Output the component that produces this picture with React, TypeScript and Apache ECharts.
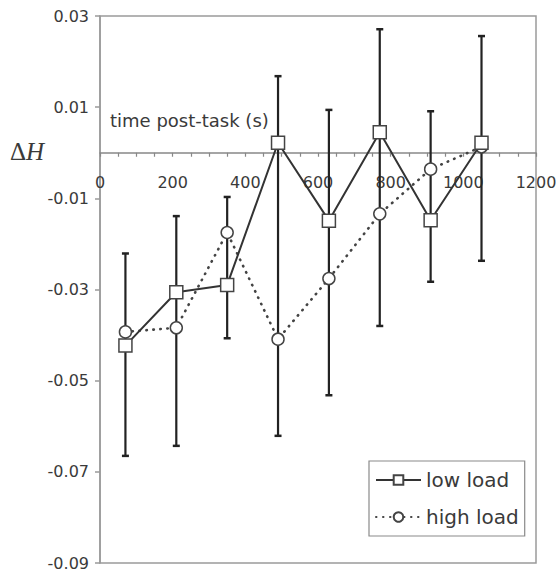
import React, { useEffect, useRef } from "react";
import * as echarts from "echarts";

const timePoints = [70, 210, 350, 490, 630, 770, 910, 1050];
const lowLoad = [-0.0423, -0.0306, -0.029, 0.0022, -0.0149, 0.0045, -0.0148, 0.0022];
const highLoad = [-0.0393, -0.0384, -0.0175, -0.0409, -0.0276, -0.0134, -0.0036, 0.0013];
const errBarTop = [-0.0221, -0.0139, -0.0097, 0.0168, 0.0094, 0.0271, 0.0091, 0.0256];
const errBarBottom = [-0.0665, -0.0643, -0.0407, -0.0621, -0.0532, -0.038, -0.0283, -0.0237];
const seriesNames = ["low load", "high load"];
const xAxisTitle = "time post-task (s)";

const FONT = "DejaVu Sans";
const TEXT = "#3a3a3a";
const AXIS = "#9a9a9a";

const GRID_TOP = 16;
const GRID_BOTTOM = 11;
const CHART_H = 574;
const Y_MIN = -0.09;
const Y_MAX = 0.03;

export default function App() {
  const ref = useRef<HTMLDivElement>(null);
  useEffect(() => {
    if (!ref.current) return;
    const chart = echarts.init(ref.current, null, { renderer: "svg" });
    const errData = timePoints.map((x, i) => [x, errBarTop[i], errBarBottom[i]]);
    const plotH = CHART_H - GRID_TOP - GRID_BOTTOM;
    const zeroFromBottom = plotH * ((0 - Y_MIN) / (Y_MAX - Y_MIN));
    chart.setOption({
      animation: false,
      backgroundColor: "#ffffff",
      grid: {
        left: 100,
        right: 24,
        top: GRID_TOP,
        bottom: GRID_BOTTOM,
        show: true,
        borderColor: AXIS,
        borderWidth: 1.5,
        containLabel: false,
        outerBoundsMode: "none",
      },
      xAxis: {
        type: "value",
        position: "bottom",
        offset: -zeroFromBottom,
        min: 0,
        max: 1200,
        interval: 200,
        axisLine: { onZero: false, lineStyle: { color: "#888", width: 1.5 } },
        axisTick: { show: true, inside: false, length: 4, lineStyle: { color: "#888", width: 1.2 } },
        minorTick: { show: true, splitNumber: 4, length: 4, lineStyle: { color: "#888", width: 1.2 } },
        splitLine: { show: false },
        minorSplitLine: { show: false },
        axisLabel: {
          margin: 22,
          color: TEXT,
          fontFamily: FONT,
          fontSize: 16,
          formatter: (v: number) => String(v),
        },
      },
      yAxis: {
        type: "value",
        min: Y_MIN,
        max: Y_MAX,
        interval: 0.02,
        axisLine: { show: true, onZero: false, lineStyle: { color: AXIS, width: 1.5 } },
        axisTick: { show: true, inside: false, length: 5, lineStyle: { color: AXIS, width: 1.5 } },
        splitLine: { show: false },
        axisLabel: {
          margin: 11,
          color: TEXT,
          fontFamily: FONT,
          fontSize: 16,
          formatter: (v: number) => v.toFixed(2),
        },
      },
      legend: {
        left: 369,
        top: 461,
        orient: "vertical",
        backgroundColor: "#ffffff",
        borderColor: "#8a8a8a",
        borderWidth: 1.2,
        borderRadius: 0,
        padding: [7, 6, 7, 6],
        itemWidth: 45,
        itemHeight: 12,
        itemGap: 13,
        data: seriesNames,
        textStyle: { color: TEXT, fontFamily: FONT, fontSize: 20, lineHeight: 24 },
      },
      graphic: [
        {
          type: "text",
          left: 110,
          top: 111,
          z: 10,
          style: {
            text: xAxisTitle,
            fill: TEXT,
            font: `18px "${FONT}"`,
          },
        },
        {
          type: "text",
          left: 10,
          top: 139,
          z: 10,
          style: {
            text: "{a|Δ}{b|H}",
            rich: {
              a: { fontFamily: "Liberation Serif", fontSize: 25, fill: TEXT, fontStyle: "normal" },
              b: { fontFamily: "Liberation Serif", fontSize: 25, fill: TEXT, fontStyle: "italic" },
            },
          },
        },
      ],
      series: [
        {
          type: "custom",
          name: "error",
          z: 1,
          silent: true,
          encode: { x: 0, y: [1, 2] },
          data: errData,
          renderItem: (_params: any, api: any) => {
            const x = api.value(0);
            const pTop = api.coord([x, api.value(1)]);
            const pBot = api.coord([x, api.value(2)]);
            const cap = 3.5;
            const style = { stroke: "#222", lineWidth: 2.2 };
            const capStyle = { stroke: "#222", lineWidth: 2.5 };
            return {
              type: "group",
              children: [
                { type: "line", shape: { x1: pTop[0], y1: pTop[1], x2: pBot[0], y2: pBot[1] }, style },
                { type: "line", shape: { x1: pTop[0] - cap, y1: pTop[1], x2: pTop[0] + cap, y2: pTop[1] }, style: capStyle },
                { type: "line", shape: { x1: pBot[0] - cap, y1: pBot[1], x2: pBot[0] + cap, y2: pBot[1] }, style: capStyle },
              ],
            };
          },
        },
        {
          type: "line",
          name: seriesNames[1],
          z: 3,
          data: timePoints.map((x, i) => [x, highLoad[i]]),
          symbol: "circle",
          symbolSize: 12,
          showAllSymbol: true,
          lineStyle: { color: "#444", width: 2.6, type: [0.5, 6.5], cap: "round" },
          itemStyle: { color: "#ffffff", borderColor: "#444", borderWidth: 1.5 },
        },
        {
          type: "line",
          name: seriesNames[0],
          z: 4,
          data: timePoints.map((x, i) => [x, lowLoad[i]]),
          symbol: "rect",
          symbolSize: 13,
          showAllSymbol: true,
          lineStyle: { color: "#333", width: 2 },
          itemStyle: { color: "#ffffff", borderColor: "#444", borderWidth: 1.5 },
        },
      ],
    });
    return () => chart.dispose();
  }, []);
  return (
    <div
      ref={ref}
      style={{ position: "absolute", left: 0, top: 0, width: 560, height: 574 }}
    />
  );
}
